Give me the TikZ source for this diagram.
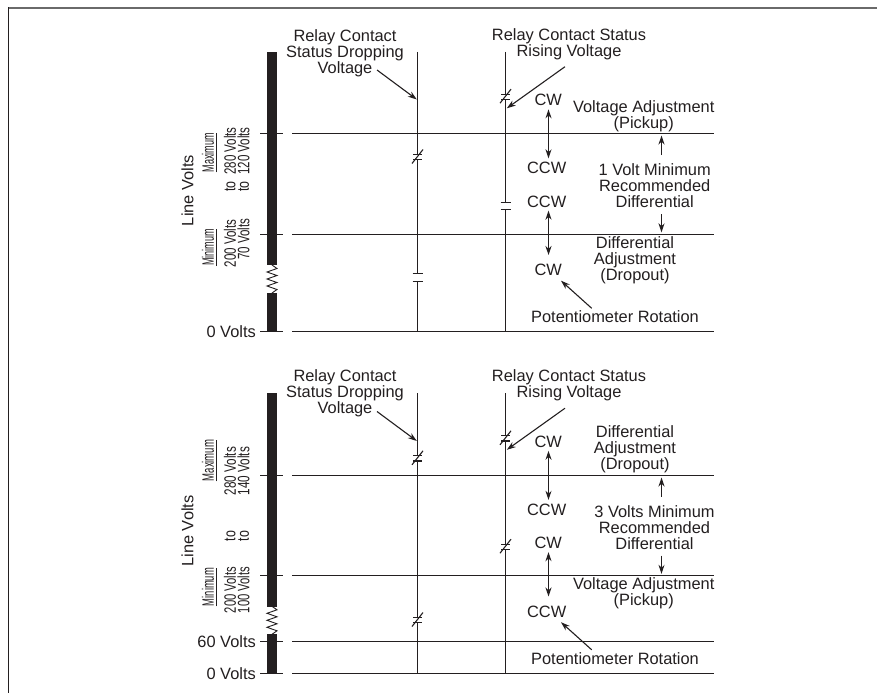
\documentclass[tikz,border=0pt]{standalone}
\usepackage{fontspec}
\setmainfont{Liberation Sans}
\usepackage{graphicx}
\usetikzlibrary{arrows.meta}
\definecolor{ink}{HTML}{231F20}
\definecolor{framegray}{HTML}{6A6A6A}
\newcommand\ctNO[2]{%
  \fill[white] (#1-6,#2-3.7) rectangle (#1+6,#2+3.7);
  \draw[ink,line width=1.2pt] (#1-5,#2-3.7) -- (#1+5,#2-3.7) (#1-5,#2+3.7) -- (#1+5,#2+3.7);}
\newcommand\ctNC[2]{%
  \fill[white] (#1-6,#2-2.6) rectangle (#1+6,#2+2.6);
  \draw[ink,line width=1.2pt] (#1-4.5,#2-2.6) -- (#1+4.5,#2-2.6) (#1-4.5,#2+2.6) -- (#1+4.5,#2+2.6);
  \draw[ink,line width=1.1pt] (#1-5.5,#2+6.5) -- (#1+5.5,#2-7.5);}
\newcommand\zzag[1]{%
  \draw[ink,line width=0.9pt] (272,#1) -- (277,#1+3.5) -- (267,#1+7) -- (277,#1+10.5) -- (267,#1+14) -- (277,#1+17.5) -- (267,#1+21) -- (277,#1+24.5) -- (272,#1+28);}
\newcommand\rtx[5]{\node[rt] (#1) at (#2,#3) {\scalebox{#4}[1]{\fontsize{16.5}{16.5}\selectfont #5}};}
\begin{document}
\begin{tikzpicture}[x=1pt,y=-1pt,
  ln/.style={draw=ink,line width=1.2pt},
  lbl/.style={font=\fontsize{16.4}{16}\selectfont,text=ink,align=center,inner sep=0pt},
  arr/.style={draw=ink,line width=1.1pt,-{Stealth[length=9pt,width=6pt]}},
  darr/.style={draw=ink,line width=1.1pt,{Stealth[length=9pt,width=6pt]}-{Stealth[length=9pt,width=6pt]}},
  rt/.style={rotate=90,inner sep=0pt,text=ink},
]
\useasboundingbox (0,0) rectangle (877,693);
\fill[white] (0,0) rectangle (877,693);
\draw[framegray, line width=2.3pt] (8,8.3) -- (877,8.3);
\draw[ink, line width=1.4pt] (8.3,7.2) -- (8.3,693);

% ================= TOP PANEL =================
\fill[ink] (267,52) rectangle (277,265);
\zzag{265}
\fill[ink] (267,293) rectangle (277,332);
\foreach \yy in {133.5,234.5,331.5}{
  \draw[ln] (260,\yy) -- (283,\yy);
  \draw[ln] (292,\yy) -- (714,\yy);
}
\draw[ln] (417.5,52) -- (417.5,331.5);
\draw[ln] (505.5,52) -- (505.5,331.5);
\ctNC{417.5}{157}
\ctNO{417.5}{277.5}
\ctNC{505.5}{96.7}
\ctNO{505.5}{206}

\node[lbl,anchor=east] (zeroA) at (256,331.5) {0 Volts};
\node[lbl,rotate=90] (lvA) at (187.5,190.5) {Line Volts};
\rtx{maxA}{208}{152.5}{0.55}{Maximum}
\rtx{minA}{208}{247.5}{0.55}{Minimum}
\draw[ink,line width=0.9pt] ([xshift=1.8pt]maxA.south west) -- ([xshift=1.8pt]maxA.south east);
\draw[ink,line width=0.9pt] ([xshift=1.8pt]minA.south west) -- ([xshift=1.8pt]minA.south east);
\rtx{a1}{230}{151}{0.70}{280 Volts}
\rtx{a2}{230}{186.5}{0.75}{to}
\rtx{a3}{230}{243.5}{0.70}{200 Volts}
\rtx{b1}{243.5}{151}{0.70}{120 Volts}
\rtx{b2}{243.5}{186.5}{0.75}{to}
\rtx{b3}{243.5}{239}{0.70}{70 Volts}

\node[lbl] (dropA) at (345,53) {Relay Contact\\Status Dropping\\Voltage};
\node[lbl] (riseA) at (569,44) {Relay Contact Status\\Rising Voltage};
\coordinate (dropAs) at (377,70);
\coordinate (dropAt) at (416.8,99.5);
\coordinate (riseAs) at (565,66.7);
\coordinate (riseAt) at (506.8,108.3);
\draw[arr] (dropAs) -- (dropAt);
\draw[arr] (riseAs) -- (riseAt);

\node[lbl] (cwA1) at (548.3,100) {CW};
\node[lbl] (ccwA1) at (546.7,168.3) {CCW};
\node[lbl] (ccwA2) at (546.7,201.7) {CCW};
\node[lbl] (cwA2) at (548.3,270) {CW};
\coordinate (dA1s) at (548.5,109.3);
\coordinate (dA1e) at (548.5,158.3);
\coordinate (dA2s) at (548.5,210.7);
\coordinate (dA2e) at (548.5,255);
\draw[darr] (dA1s) -- (dA1e);
\draw[darr] (dA2s) -- (dA2e);

\node[lbl] (vaA) at (643.7,116) {Voltage Adjustment\\(Pickup)};
\node[lbl] (mnA) at (654.7,186) {1 Volt Minimum\\Recommended\\Differential};
\node[lbl] (daA) at (635,260.5) {Differential\\Adjustment\\(Dropout)};
\coordinate (upAs) at (661.5,155);
\coordinate (upAt) at (661.5,135.5);
\coordinate (dnAs) at (661.5,214);
\coordinate (dnAt) at (661.5,232.3);
\draw[arr] (upAs) -- (upAt);
\draw[arr] (dnAs) -- (dnAt);
\node[lbl] (potA) at (615,317) {Potentiometer Rotation};
\coordinate (potAs) at (591.7,308.3);
\coordinate (potAt) at (561,280.7);
\draw[arr] (potAs) -- (potAt);

% ================= BOTTOM PANEL =================
\fill[ink] (267,393.3) rectangle (277,606.7);
\zzag{606.3}
\fill[ink] (267,634.3) rectangle (277,673.5);
\foreach \yy in {475.5,575.5,641.5,673.5}{
  \draw[ln] (260,\yy) -- (283,\yy);
  \draw[ln] (292,\yy) -- (714,\yy);
}
\draw[ln] (417.5,393.3) -- (417.5,673.5);
\draw[ln] (505.5,393.3) -- (505.5,673.5);
\ctNC{417.5}{458.3}
\ctNC{417.5}{620}
\ctNC{505.5}{438.3}
\ctNC{505.5}{546.7}

\node[lbl,anchor=east] (sixtyB) at (256,641.5) {60 Volts};
\node[lbl,anchor=east] (zeroB) at (256,673.5) {0 Volts};
\node[lbl,rotate=90] (lvB) at (187.5,531) {Line Volts};
\rtx{maxB}{208}{460.5}{0.58}{Maximum}
\rtx{minB}{208}{587}{0.57}{Minimum}
\draw[ink,line width=0.9pt] ([xshift=1.8pt]maxB.south west) -- ([xshift=1.8pt]maxB.south east);
\draw[ink,line width=0.9pt] ([xshift=1.8pt]minB.south west) -- ([xshift=1.8pt]minB.south east);
\rtx{c1}{230}{471}{0.71}{280 Volts}
\rtx{c2}{230}{536}{0.75}{to}
\rtx{c3}{230}{590}{0.68}{200 Volts}
\rtx{e1}{243.5}{471}{0.71}{140 Volts}
\rtx{e2}{243.5}{536}{0.75}{to}
\rtx{e3}{243.5}{590}{0.68}{100 Volts}

\node[lbl] (dropB) at (345,393.7) {Relay Contact\\Status Dropping\\Voltage};
\node[lbl] (riseB) at (569,385.5) {Relay Contact Status\\Rising Voltage};
\coordinate (dropBs) at (377,411.5);
\coordinate (dropBt) at (416.8,441);
\coordinate (riseBs) at (565,408.2);
\coordinate (riseBt) at (506.8,449.8);
\draw[arr] (dropBs) -- (dropBt);
\draw[arr] (riseBs) -- (riseBt);

\node[lbl] (cwB1) at (548.3,441.5) {CW};
\node[lbl] (ccwB1) at (546.7,509.8) {CCW};
\node[lbl] (cwB2) at (548.3,543.2) {CW};
\node[lbl] (ccwB2) at (546.7,611.5) {CCW};
\coordinate (dB1s) at (548.5,450.8);
\coordinate (dB1e) at (548.5,499.8);
\coordinate (dB2s) at (548.5,552.2);
\coordinate (dB2e) at (548.5,596.5);
\draw[darr] (dB1s) -- (dB1e);
\draw[darr] (dB2s) -- (dB2e);

\node[lbl] (daB) at (635,449) {Differential\\Adjustment\\(Dropout)};
\node[lbl] (mnB) at (654.5,527.3) {3 Volts Minimum\\Recommended\\Differential};
\node[lbl] (vaB) at (643.7,593.3) {Voltage Adjustment\\(Pickup)};
\coordinate (upBs) at (661.5,496.5);
\coordinate (upBt) at (661.5,477.5);
\coordinate (dnBs) at (661.5,555.5);
\coordinate (dnBt) at (661.5,573.8);
\draw[arr] (upBs) -- (upBt);
\draw[arr] (dnBs) -- (dnBt);
\node[lbl] (potB) at (615,658.3) {Potentiometer Rotation};
\coordinate (potBs) at (591.7,649.8);
\coordinate (potBt) at (561,622.2);
\draw[arr] (potBs) -- (potBt);
\end{tikzpicture}
\end{document}
